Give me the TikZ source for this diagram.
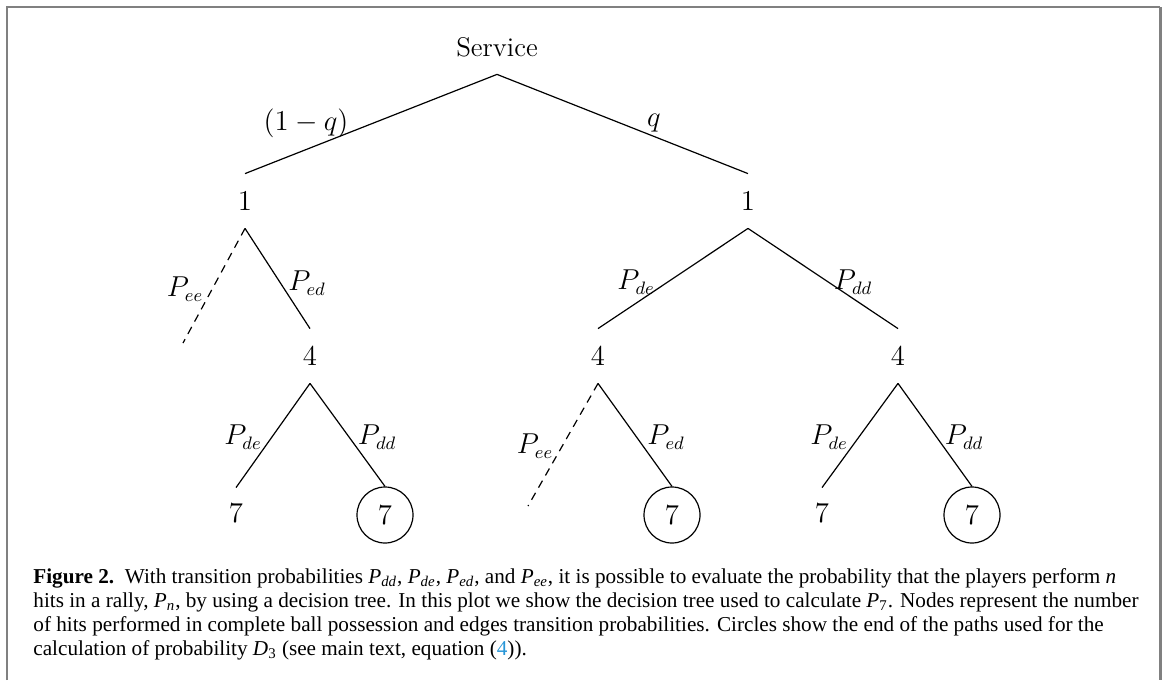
\documentclass[tikz,border=0pt]{standalone}
\usepackage{fontspec}
\newfontfamily\capfont{Liberation Serif}
\definecolor{framec}{RGB}{128,128,128}
\definecolor{linkc}{RGB}{40,150,215}
\begin{document}
\begin{tikzpicture}[x=0.5pt,y=-0.5pt,
  tn/.style={inner sep=0pt, minimum height=27pt, font=\fontsize{13.5}{15}\selectfont},
  leaf/.style={inner sep=0pt, minimum height=25pt, font=\fontsize{13.5}{15}\selectfont},
  cleaf/.style={circle, draw, line width=0.6pt, inner sep=0pt, minimum size=28pt, font=\fontsize{13.5}{15}\selectfont},
  lab/.style={inner sep=0pt, font=\fontsize{13.5}{15}\selectfont},
  edge/.style={line width=0.6pt},
  dedge/.style={line width=0.6pt, dash pattern=on 4pt off 3pt}]
\useasboundingbox (0,0) rectangle (1165,680);
\draw[framec, line width=1pt] (6.5,680) -- (6.5,7) -- (1160,7);
\draw[framec, line width=1.5pt] (1160,7) -- (1160,680);
% tree nodes
\node[tn] (svc) at (497,47) {Service};
\node[tn] (a1) at (245,201) {$1$};
\node[tn] (b1) at (748,201) {$1$};
\node[tn] (a4) at (310,356) {$4$};
\node[tn] (b4) at (598,356) {$4$};
\node[tn] (c4) at (898,356) {$4$};
\node[leaf] (a7) at (236,513) {$7$};
\node[cleaf] (a7c) at (385,515) {$7$};
\node[cleaf] (b7c) at (672,515) {$7$};
\node[leaf] (c7) at (822,513) {$7$};
\node[cleaf] (c7c) at (972,515) {$7$};
\coordinate (ae) at (183,343);
\coordinate (be) at (528,506);
% edges
\draw[edge] (svc.south) -- (a1.north);
\draw[edge] (svc.south) -- (b1.north);
\draw[dedge] (a1.south) -- (ae);
\draw[edge] (a1.south) -- (a4.north);
\draw[edge] (b1.south) -- (b4.north);
\draw[edge] (b1.south) -- (c4.north);
\draw[edge] (a4.south) -- (a7.north);
\draw[edge] (a4.south) -- (a7c.north);
\draw[dedge] (b4.south) -- (be);
\draw[edge] (b4.south) -- (b7c.north);
\draw[edge] (c4.south) -- (c7.north);
\draw[edge] (c4.south) -- (c7c.north);
% labels
\node[lab] (l1) at (306,123) {$(1-q)$};
\node[lab] (l2) at (654,123) {$q$};
\node[lab] (l3) at (185,289) {$P_{ee}$};
\node[lab] (l4) at (307,283) {$P_{ed}$};
\node[lab] (l5) at (636,282) {$P_{de}$};
\node[lab] (l6) at (853,282) {$P_{dd}$};
\node[lab] (l7) at (243,437) {$P_{de}$};
\node[lab] (l8) at (377,437) {$P_{dd}$};
\node[lab] (l9) at (535,446) {$P_{ee}$};
\node[lab] (l10) at (666,437) {$P_{ed}$};
\node[lab] (l11) at (829,437) {$P_{de}$};
\node[lab] (l12) at (964,437) {$P_{dd}$};
% caption
\node[anchor=north west, inner sep=0pt, align=left, font=\capfont\fontsize{10.6}{12}\selectfont] (cap) at (33,568)
{\textbf{Figure 2.}\enspace With transition probabilities \textit{P}\textsubscript{\textit{dd}}, \textit{P}\textsubscript{\textit{de}}, \textit{P}\textsubscript{\textit{ed}}, and \textit{P}\textsubscript{\textit{ee}}, it is possible to evaluate the probability that the players perform \textit{n}\\
hits in a rally, \textit{P}\textsubscript{\textit{n}}, by using a decision tree. In this plot we show the decision tree used to calculate \textit{P}\textsubscript{7}. Nodes represent the number\\
of hits performed in complete ball possession and edges transition probabilities. Circles show the end of the paths used for the\\
calculation of probability \textit{D}\textsubscript{3} (see main text, equation ({\color{linkc}4})).};
\end{tikzpicture}
\end{document}
